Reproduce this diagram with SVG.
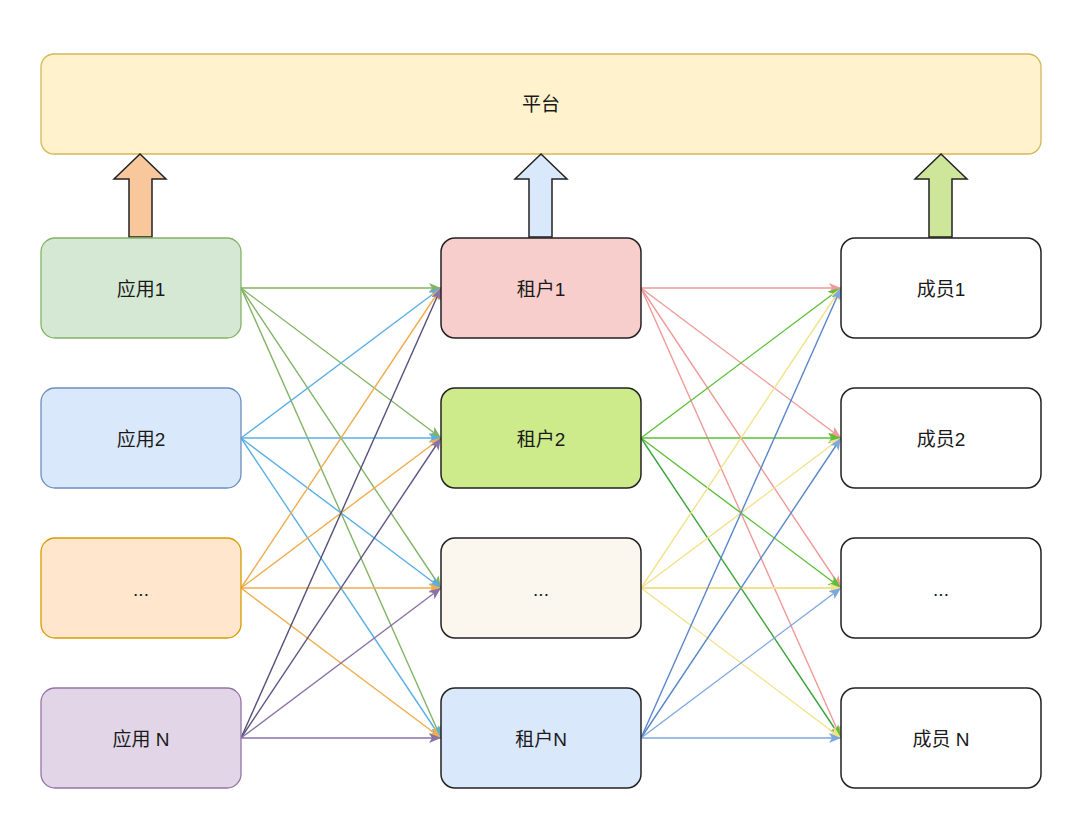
<svg xmlns="http://www.w3.org/2000/svg" width="1080" height="829" viewBox="0 0 1080 829">
<style>
text{font-family:"Liberation Sans","Noto Sans CJK SC",sans-serif;font-size:19px;fill:#1a1a1a;text-anchor:middle;dominant-baseline:central}
.n{stroke-width:1.3}
.c2{stroke:#222;stroke-width:1.5}
.w{fill:#fff;stroke:#222;stroke-width:1.5}
.e{fill:none;stroke-width:1.4}
.blk{stroke:#222;stroke-width:1.5;stroke-linejoin:miter}
</style>
<defs>
<marker id="mg" viewBox="0 0 12 10" refX="12" refY="5" markerWidth="12" markerHeight="10" markerUnits="userSpaceOnUse" orient="auto"><path d="M0,0 L12,5 L0,10 L3,5z" fill="#82b366"/></marker>
<marker id="mb" viewBox="0 0 12 10" refX="12" refY="5" markerWidth="12" markerHeight="10" markerUnits="userSpaceOnUse" orient="auto"><path d="M0,0 L12,5 L0,10 L3,5z" fill="#5aaee6"/></marker>
<marker id="mo" viewBox="0 0 12 10" refX="12" refY="5" markerWidth="12" markerHeight="10" markerUnits="userSpaceOnUse" orient="auto"><path d="M0,0 L12,5 L0,10 L3,5z" fill="#f0ad4e"/></marker>
<marker id="mp" viewBox="0 0 12 10" refX="12" refY="5" markerWidth="12" markerHeight="10" markerUnits="userSpaceOnUse" orient="auto"><path d="M0,0 L12,5 L0,10 L3,5z" fill="#8a72a8"/></marker>
<marker id="mr" viewBox="0 0 12 10" refX="12" refY="5" markerWidth="12" markerHeight="10" markerUnits="userSpaceOnUse" orient="auto"><path d="M0,0 L12,5 L0,10 L3,5z" fill="#ee9a98"/></marker>
<marker id="mG" viewBox="0 0 12 10" refX="12" refY="5" markerWidth="13" markerHeight="11" markerUnits="userSpaceOnUse" orient="auto"><path d="M0,0 L12,5 L0,10 L3,5z" fill="#5cbf3a"/></marker>
<marker id="my" viewBox="0 0 12 10" refX="12" refY="5" markerWidth="12" markerHeight="10" markerUnits="userSpaceOnUse" orient="auto"><path d="M0,0 L12,5 L0,10 L3,5z" fill="#f2e28a"/></marker>
<marker id="mB" viewBox="0 0 12 10" refX="12" refY="5" markerWidth="12" markerHeight="10" markerUnits="userSpaceOnUse" orient="auto"><path d="M0,0 L12,5 L0,10 L3,5z" fill="#7ea6e0"/></marker>
</defs>
<rect width="1080" height="829" fill="#fff"/>
<g id="platform"><rect x="41" y="54" width="1000" height="100" rx="13" fill="#fff2cc" stroke="#d6b656" stroke-width="1.3"/><text x="541" y="104">平台</text></g>
<g id="up-arrows">
<path class="blk" d="M140,154 L166,179 L152,179 L152,237 L129,237 L129,179 L114,179Z" fill="#f8c79c"/>
<path class="blk" d="M541,154 L567,179 L552,179 L552,237 L529,237 L529,179 L515,179Z" fill="#dae8fc"/>
<path class="blk" d="M941,154 L967,179 L952,179 L952,237 L929,237 L929,179 L915,179Z" fill="#cde69a"/>
</g>
<g id="connectors">
<g class="e" stroke="#82b366">
<path d="M241,288 L441,288" marker-end="url(#mg)"/><path d="M241,288 L441,438" marker-end="url(#mg)"/><path d="M241,288 L441,588" marker-end="url(#mg)"/><path d="M241,288 L441,738" marker-end="url(#mg)"/>
</g>
<g class="e" stroke="#5aaee6">
<path d="M241,438 L441,288" marker-end="url(#mb)"/><path d="M241,438 L441,438" marker-end="url(#mb)"/><path d="M241,438 L441,588" marker-end="url(#mb)"/><path d="M241,438 L441,738" marker-end="url(#mb)"/>
</g>
<g class="e" stroke="#f0ad4e">
<path d="M241,588 L441,288" marker-end="url(#mo)"/><path d="M241,588 L441,438" marker-end="url(#mo)"/><path d="M241,588 L441,588" marker-end="url(#mo)"/><path d="M241,588 L441,738" marker-end="url(#mo)"/>
</g>
<g class="e" stroke="#8a72a8">
<path d="M241,738 L441,288" stroke="#55507a" marker-end="url(#mp)"/><path d="M241,738 L441,438" stroke="#5f5682" marker-end="url(#mp)"/><path d="M241,738 L441,588" marker-end="url(#mp)"/><path d="M241,738 L441,738" marker-end="url(#mp)"/>
</g>
<g class="e" stroke="#ee9a98">
<path d="M641,288 L841,288" marker-end="url(#mr)"/><path d="M641,288 L841,438" marker-end="url(#mr)"/><path d="M641,288 L841,588" marker-end="url(#mr)"/><path d="M641,288 L841,738" marker-end="url(#mr)"/>
</g>
<g class="e" stroke="#5cbf3a" stroke-width="2">
<path d="M641,438 L841,288" marker-end="url(#mG)"/><path d="M641,438 L841,438" marker-end="url(#mG)"/><path d="M641,438 L841,588" marker-end="url(#mG)"/><path d="M641,438 L841,738" stroke="#3aa33a" marker-end="url(#mG)"/>
</g>
<g class="e" stroke="#f2e28a">
<path d="M641,588 L841,288" marker-end="url(#my)"/><path d="M641,588 L841,438" marker-end="url(#my)"/><path d="M641,588 L841,588" stroke-width="2" marker-end="url(#my)"/><path d="M641,588 L841,738" marker-end="url(#my)"/>
</g>
<g class="e" stroke="#7ea6e0">
<path d="M641,738 L841,288" stroke="#5a86c8" marker-end="url(#mB)"/><path d="M641,738 L841,438" stroke="#5a86c8" marker-end="url(#mB)"/><path d="M641,738 L841,588" marker-end="url(#mB)"/><path d="M641,738 L841,738" marker-end="url(#mB)"/>
</g>
</g>
<g id="app1"><rect class="n" x="41" y="238" width="200" height="100" rx="14" fill="#d5e8d4" stroke="#82b366"/><text x="141" y="289">应用1</text></g>
<g id="app2"><rect class="n" x="41" y="388" width="200" height="100" rx="14" fill="#dae8fc" stroke="#6c8ebf"/><text x="141" y="439">应用2</text></g>
<g id="app3"><rect class="n" x="41" y="538" width="200" height="100" rx="14" fill="#ffe6cc" stroke="#d79b00"/><text x="141" y="589">...</text></g>
<g id="appN"><rect class="n" x="41" y="688" width="200" height="100" rx="14" fill="#e1d5e7" stroke="#9673a6"/><text x="141" y="739">应用 N</text></g>
<g id="tenant1"><rect class="c2" x="441" y="238" width="200" height="100" rx="14" fill="#f8cecc"/><text x="541" y="289">租户1</text></g>
<g id="tenant2"><rect class="c2" x="441" y="388" width="200" height="100" rx="14" fill="#cdeb8b"/><text x="541" y="439">租户2</text></g>
<g id="tenant3"><rect class="c2" x="441" y="538" width="200" height="100" rx="14" fill="#fbf7ee"/><text x="541" y="589">...</text></g>
<g id="tenantN"><rect class="c2" x="441" y="688" width="200" height="100" rx="14" fill="#dae8fc"/><text x="541" y="739">租户N</text></g>
<g id="member1"><rect class="w" x="841" y="238" width="200" height="100" rx="14"/><text x="941" y="289">成员1</text></g>
<g id="member2"><rect class="w" x="841" y="388" width="200" height="100" rx="14"/><text x="941" y="439">成员2</text></g>
<g id="member3"><rect class="w" x="841" y="538" width="200" height="100" rx="14"/><text x="941" y="589">...</text></g>
<g id="memberN"><rect class="w" x="841" y="688" width="200" height="100" rx="14"/><text x="941" y="739">成员 N</text></g>
</svg>
